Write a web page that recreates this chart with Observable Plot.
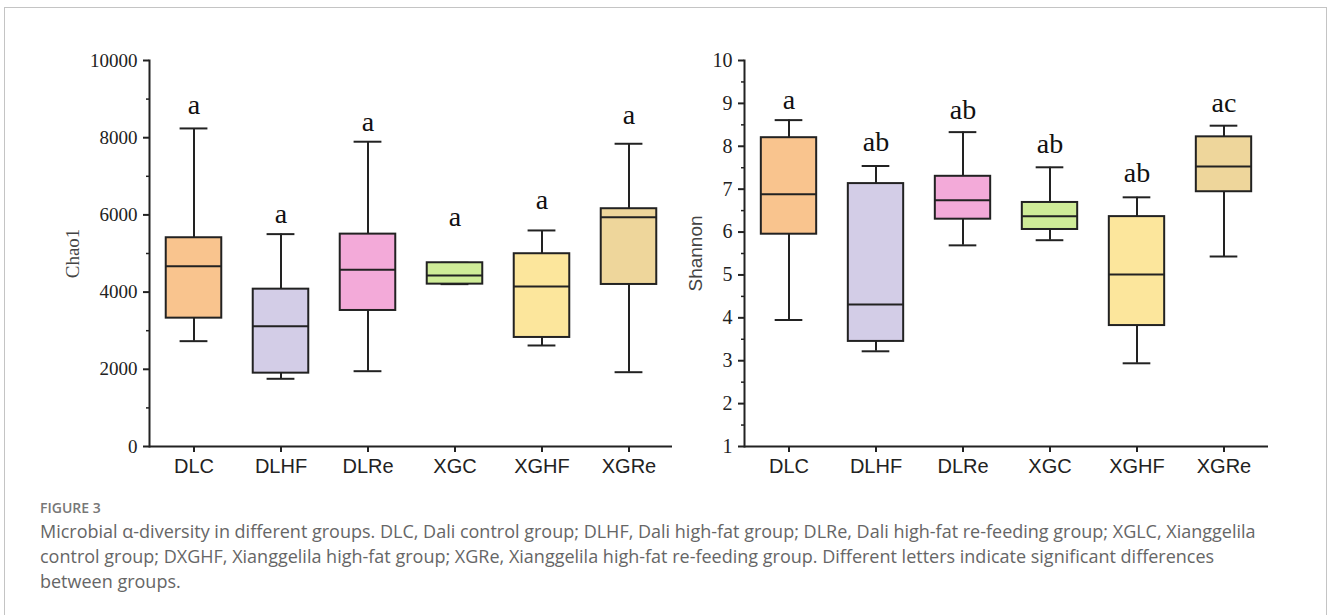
<!DOCTYPE html>
<html>
<head>
<meta charset="utf-8">
<script src="https://cdn.jsdelivr.net/npm/d3@7"></script>
<script src="https://cdn.jsdelivr.net/npm/@observablehq/plot@0.6"></script>
<style>
  body { margin: 0; background: #fff; }
  #root { position: relative; width: 1328px; height: 615px; overflow: hidden; background: #fff; }
  #frame { position: absolute; left: 4px; top: 7px; width: 1323px; height: 700px; box-sizing: border-box; border: 1px solid #c4c4c4; }
  #left { position: absolute; left: 0; top: 0; }
  #right { position: absolute; left: 680px; top: 0; }
  #caption { position: absolute; left: 40px; top: 497px; font-family: "Open Sans", Lato, sans-serif; color: #666; }
  #caption .fig { font-size: 14px; font-weight: 600; line-height: 22px; color: #777; }
  #caption .line { font-size: 18px; line-height: 25px; white-space: nowrap; }
</style>
</head>
<body>
<div id="root">
  <div id="frame"></div>
  <div id="left"></div>
  <div id="right"></div>
  <div id="caption"></div>
</div>
<script>
// ---- data ----
const groups = ["DLC", "DLHF", "DLRe", "XGC", "XGHF", "XGRe"];
const boxColors = ["#f9c48e", "#d3cde7", "#f3aad9", "#cfec98", "#fce69c", "#eed69b"];

const chaoMin = [2729, 1754, 1951, 4206, 2617, 1925];
const chaoQ1  = [3325, 1900, 3524, 4206, 2825, 4198];
const chaoMed = [4672, 3118, 4579, 4431, 4146, 5942];
const chaoQ3  = [5408, 4076, 5502, 4760, 4994, 6160];
const chaoMax = [8240, 5502, 7896, 4760, 5597, 7843];
const chaoLetters = ["a", "a", "a", "a", "a", "a"];
const chaoLetterY = [8837, 6012, 8404, 5942, 6375, 8577];
const chaoTicks = [0, 2000, 4000, 6000, 8000, 10000];
const chaoMinorTicks = [1000, 3000, 5000, 7000, 9000];

const shannonMin = [3.95, 3.22, 5.69, 5.81, 2.94, 5.43];
const shannonQ1  = [5.95, 3.45, 6.30, 6.06, 3.82, 6.94];
const shannonMed = [6.88, 4.31, 6.74, 6.37, 5.01, 7.53];
const shannonQ3  = [8.20, 7.13, 7.30, 6.69, 6.36, 8.22];
const shannonMax = [8.61, 7.54, 8.33, 7.51, 6.81, 8.48];
const shannonLetters = ["a", "ab", "ab", "ab", "ab", "ac"];
const shannonLetterY = [9.08, 8.11, 8.85, 8.05, 7.37, 9.00];
const shannonTicks = [1, 2, 3, 4, 5, 6, 7, 8, 9, 10];
const shannonMinorTicks = [1.5, 2.5, 3.5, 4.5, 5.5, 6.5, 7.5, 8.5, 9.5];

const captionTitle = "FIGURE 3";
const captionLines = [
  "Microbial \u03b1-diversity in different groups. DLC, Dali control group; DLHF, Dali high-fat group; DLRe, Dali high-fat re-feeding group; XGLC, Xianggelila",
  "control group; DXGHF, Xianggelila high-fat group; XGRe, Xianggelila high-fat re-feeding group. Different letters indicate significant differences",
  "between groups."
];

function table(mins, q1s, meds, q3s, maxs, letters, letterY) {
  return groups.map((g, i) => ({
    g, color: boxColors[i], min: mins[i], q1: q1s[i], med: meds[i], q3: q3s[i], max: maxs[i],
    letter: letters[i], ly: letterY[i]
  }));
}

function panel({data, domain, ticks, minor, label, labelFont, labelOffset, width, marginLeft, marginRight, tickFont}) {
  const ink = "#222";
  const band = (width - marginLeft - marginRight) / groups.length;
  const boxInset = (band - 55.7) / 2;
  const capInset = (band - 28) / 2;
  return Plot.plot({
    width, height: 480,
    marginLeft, marginRight, marginTop: 60, marginBottom: 34,
    style: {background: "transparent", color: ink, overflow: "visible"},
    x: {type: "band", domain: groups, padding: 0},
    y: {domain},
    color: {type: "identity"},
    marks: [
      Plot.ruleX(data, {x: "g", y1: "min", y2: "max", stroke: ink, strokeWidth: 2}),
      Plot.tickY(data, {x: "g", y: "min", stroke: ink, strokeWidth: 2, insetLeft: capInset, insetRight: capInset}),
      Plot.tickY(data, {x: "g", y: "max", stroke: ink, strokeWidth: 2, insetLeft: capInset, insetRight: capInset}),
      Plot.barY(data, {x: "g", y1: "q1", y2: "q3", fill: "color", stroke: ink, strokeWidth: 2, insetLeft: boxInset, insetRight: boxInset}),
      Plot.tickY(data, {x: "g", y: "med", stroke: ink, strokeWidth: 2, insetLeft: boxInset, insetRight: boxInset}),
      Plot.text(data, {x: "g", y: "ly", text: "letter", fontSize: 28, fontFamily: "'Liberation Serif', serif", fill: "#111", lineAnchor: "middle"}),
      Plot.axisY(ticks, {tickSize: 6, tickPadding: 6, strokeWidth: 2, fontSize: tickFont, fontFamily: "'Liberation Serif', serif", tickFormat: d => String(d), label: null}),
      Plot.axisY(minor, {tickSize: 3, strokeWidth: 1.5, tickFormat: () => "", label: null}),
      Plot.axisY([], {label, labelArrow: "none", labelAnchor: "center", labelOffset, fontSize: 19, fontFamily: labelFont, fill: "#444"}),
      Plot.axisX({tickSize: 6, tickPadding: 6, strokeWidth: 2, fontSize: 20, fontFamily: "'Liberation Sans', Arial, sans-serif", label: null}),
      Plot.ruleY([domain[0]], {stroke: ink, strokeWidth: 2}),
      Plot.frame({anchor: "left", stroke: ink, strokeWidth: 2})
    ]
  });
}

const chaoData = table(chaoMin, chaoQ1, chaoMed, chaoQ3, chaoMax, chaoLetters, chaoLetterY);
const shannonData = table(shannonMin, shannonQ1, shannonMed, shannonQ3, shannonMax, shannonLetters, shannonLetterY);

document.getElementById("left").appendChild(panel({
  data: chaoData, domain: [0, 10000], ticks: chaoTicks, minor: chaoMinorTicks,
  label: "Chao1", labelFont: "'Liberation Serif', serif", labelOffset: 84,
  width: 680, marginLeft: 149, marginRight: 8, tickFont: 19
}));
document.getElementById("right").appendChild(panel({
  data: shannonData, domain: [1, 10], ticks: shannonTicks, minor: shannonMinorTicks,
  label: "Shannon", labelFont: "'Liberation Sans', Arial, sans-serif", labelOffset: 56,
  width: 648, marginLeft: 64, marginRight: 60, tickFont: 20
}));

const cap = document.getElementById("caption");
const t = document.createElement("div");
t.className = "fig"; t.textContent = captionTitle; cap.appendChild(t);
for (const l of captionLines) {
  const d = document.createElement("div");
  d.className = "line"; d.textContent = l; cap.appendChild(d);
}
</script>
</body>
</html>
